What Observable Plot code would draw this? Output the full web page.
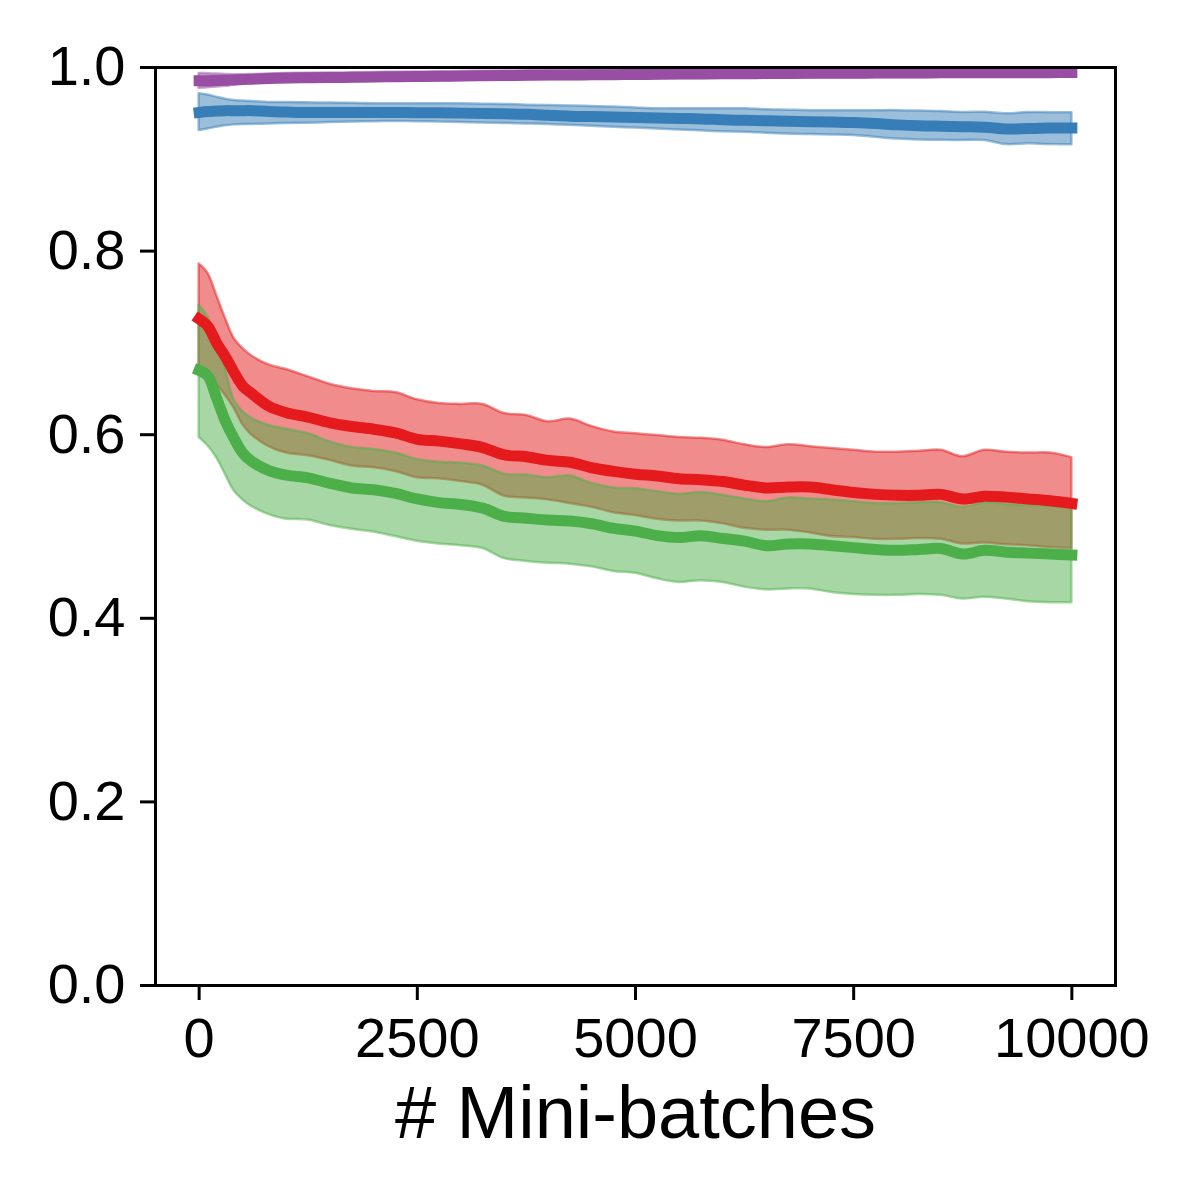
<!DOCTYPE html>
<html><head><meta charset="utf-8">
<script src="https://cdn.jsdelivr.net/npm/d3@7"></script>
<script src="https://cdn.jsdelivr.net/npm/@observablehq/plot@0.6"></script>
<style>body{margin:0;background:#fff;}</style>
</head><body><div id="chart"></div>
<script>
const steps = [0,100,200,300,400,500,600,800,1000,1250,1500,1750,2000,2250,2500,2750,3000,3250,3500,3750,4000,4250,4500,4750,5000,5250,5500,5750,6000,6250,6500,6750,7000,7250,7500,7750,8000,8250,8500,8750,9000,9250,9500,9750,10000];

const purpleMean = [0.9855,0.9856,0.9858,0.986,0.9865,0.987,0.9873,0.988,0.9885,0.9888,0.989,0.9894,0.9897,0.990,0.9902,0.9905,0.9907,0.991,0.9912,0.9915,0.9917,0.9919,0.992,0.9922,0.9924,0.9926,0.9928,0.993,0.9931,0.9932,0.9934,0.9935,0.9936,0.9937,0.9938,0.9939,0.994,0.9941,0.9942,0.9942,0.9943,0.9943,0.9944,0.9944,0.9945];
const purpleHi = [0.9935,0.9932,0.9928,0.9925,0.9922,0.9922,0.9923,0.9929,0.9934,0.9937,0.9939,0.9943,0.9946,0.9949,0.9951,0.9954,0.9956,0.9959,0.9961,0.9964,0.9966,0.9968,0.9969,0.9971,0.9973,0.9975,0.9977,0.9979,0.998,0.9981,0.9983,0.9984,0.9985,0.9986,0.9987,0.9988,0.9989,0.999,0.9991,0.9991,0.9992,0.9992,0.9993,0.9993,0.9994];
const purpleLo = [0.9775,0.978,0.9788,0.9795,0.9808,0.9818,0.9823,0.9831,0.9836,0.9839,0.9841,0.9845,0.9848,0.9851,0.9853,0.9856,0.9858,0.9861,0.9863,0.9866,0.9868,0.987,0.9871,0.9873,0.9875,0.9877,0.9879,0.9881,0.9882,0.9883,0.9885,0.9886,0.9887,0.9888,0.9889,0.989,0.9891,0.9892,0.9893,0.9893,0.9894,0.9894,0.9895,0.9895,0.9896];

const blueMean = [0.951,0.952,0.9525,0.953,0.953,0.953,0.953,0.952,0.9515,0.951,0.951,0.951,0.951,0.951,0.9508,0.9506,0.9503,0.950,0.9495,0.949,0.948,0.947,0.9465,0.946,0.9455,0.945,0.9445,0.944,0.943,0.9425,0.942,0.9415,0.941,0.9405,0.940,0.939,0.9375,0.9365,0.936,0.9355,0.935,0.933,0.9335,0.934,0.934];
const blueHi = [0.9713,0.970,0.9677,0.9655,0.964,0.9635,0.963,0.962,0.9618,0.9616,0.9612,0.961,0.9605,0.9604,0.9604,0.9604,0.9604,0.960,0.9598,0.959,0.9586,0.958,0.9575,0.957,0.956,0.955,0.955,0.955,0.955,0.955,0.954,0.9535,0.953,0.953,0.953,0.953,0.953,0.9525,0.952,0.951,0.9513,0.9495,0.951,0.9508,0.9506];
const blueLo = [0.9314,0.933,0.935,0.9365,0.9375,0.938,0.938,0.9385,0.939,0.9393,0.940,0.9405,0.941,0.9412,0.941,0.9405,0.940,0.9395,0.939,0.9385,0.938,0.937,0.936,0.935,0.934,0.933,0.932,0.931,0.930,0.9295,0.9285,0.9275,0.927,0.9265,0.926,0.924,0.922,0.921,0.9208,0.9205,0.9205,0.916,0.917,0.916,0.9158];

const redMean = [0.726,0.718,0.700,0.685,0.668,0.653,0.645,0.631,0.624,0.619,0.613,0.609,0.606,0.602,0.595,0.593,0.590,0.586,0.578,0.576,0.572,0.570,0.564,0.560,0.557,0.555,0.552,0.551,0.549,0.545,0.542,0.543,0.543,0.540,0.537,0.535,0.534,0.534,0.535,0.530,0.533,0.532,0.530,0.528,0.525];
const redHi = [0.786,0.776,0.752,0.727,0.705,0.694,0.686,0.676,0.671,0.663,0.655,0.650,0.647,0.646,0.638,0.634,0.633,0.633,0.623,0.621,0.614,0.617,0.609,0.603,0.601,0.599,0.597,0.596,0.594,0.589,0.586,0.589,0.587,0.585,0.583,0.581,0.581,0.582,0.583,0.576,0.583,0.581,0.580,0.580,0.575];
const redLo = [0.666,0.665,0.655,0.643,0.629,0.611,0.600,0.587,0.580,0.577,0.572,0.566,0.564,0.560,0.553,0.552,0.549,0.545,0.533,0.531,0.529,0.525,0.521,0.515,0.512,0.508,0.506,0.506,0.503,0.498,0.496,0.496,0.493,0.489,0.488,0.486,0.486,0.487,0.486,0.481,0.482,0.480,0.479,0.477,0.476];

const greenMean = [0.670,0.664,0.640,0.615,0.596,0.580,0.571,0.561,0.556,0.553,0.547,0.542,0.540,0.536,0.530,0.526,0.524,0.520,0.511,0.509,0.507,0.506,0.503,0.498,0.495,0.490,0.488,0.490,0.487,0.484,0.479,0.481,0.481,0.479,0.477,0.475,0.474,0.475,0.476,0.470,0.474,0.472,0.471,0.470,0.469];
const greenHi = [0.741,0.728,0.705,0.672,0.638,0.625,0.618,0.610,0.606,0.601,0.592,0.586,0.584,0.580,0.573,0.570,0.569,0.566,0.557,0.556,0.553,0.555,0.547,0.542,0.541,0.538,0.535,0.537,0.534,0.530,0.527,0.531,0.530,0.529,0.527,0.525,0.525,0.526,0.526,0.521,0.526,0.524,0.523,0.522,0.521];
const greenLo = [0.597,0.588,0.575,0.557,0.539,0.529,0.522,0.513,0.508,0.507,0.501,0.497,0.494,0.489,0.484,0.481,0.479,0.476,0.465,0.462,0.460,0.459,0.456,0.451,0.449,0.443,0.439,0.441,0.439,0.434,0.431,0.432,0.432,0.428,0.426,0.425,0.425,0.426,0.425,0.421,0.423,0.421,0.418,0.417,0.417];

const seriesNames = ["series 1","series 2","series 3","series 4"];
const seriesColors = ["#984ea3","#377eb8","#e41a1c","#4daf4a"];
const xTicks = [0,2500,5000,7500,10000];
const yTicks = [0,0.2,0.4,0.6,0.8,1.0];
const xLabel = "# Mini-batches";

const series = [
  {name:seriesNames[0], mean:purpleMean, lo:purpleLo, hi:purpleHi},
  {name:seriesNames[1], mean:blueMean, lo:blueLo, hi:blueHi},
  {name:seriesNames[2], mean:redMean, lo:redLo, hi:redHi},
  {name:seriesNames[3], mean:greenMean, lo:greenLo, hi:greenHi}
];
const rows = series.flatMap(s => steps.map((x,i) => ({series:s.name, x, mean:s.mean[i], lo:s.lo[i], hi:s.hi[i]})));

const chart = Plot.plot({
  width:1200, height:1200,
  marginLeft:155, marginRight:85, marginTop:67, marginBottom:215,
  style:{fontFamily:"'Liberation Sans', Arial, Helvetica, sans-serif", background:"white", color:"black"},
  x:{domain:[-500,10500]},
  y:{domain:[0,1]},
  color:{type:"ordinal", domain:seriesNames, range:seriesColors},
  marks:[
    Plot.areaY(rows, {x:"x", y1:"lo", y2:"hi", z:"series", fill:"series", fillOpacity:0.5, stroke:"series", strokeOpacity:0.5, strokeWidth:2.5, curve:"catmull-rom"}),
    Plot.line(rows, {x:"x", y:"mean", z:"series", stroke:"series", strokeWidth:11, strokeLinecap:"square", curve:"catmull-rom"}),
    Plot.frame({stroke:"black", strokeWidth:3}),
    Plot.axisX({ticks:xTicks, tickFormat:d => String(d), tickSize:15, tickPadding:17, fontSize:56, strokeWidth:3, label:null}),
    Plot.axisY({ticks:yTicks, tickFormat:d3.format(".1f"), tickSize:15, tickPadding:15, fontSize:56, strokeWidth:3, label:null}),
    Plot.text([xLabel], {frameAnchor:"bottom", dy:152, lineAnchor:"bottom", fontSize:74, text:d => d})
  ]
});
document.getElementById("chart").appendChild(chart);
</script>
</body></html>
